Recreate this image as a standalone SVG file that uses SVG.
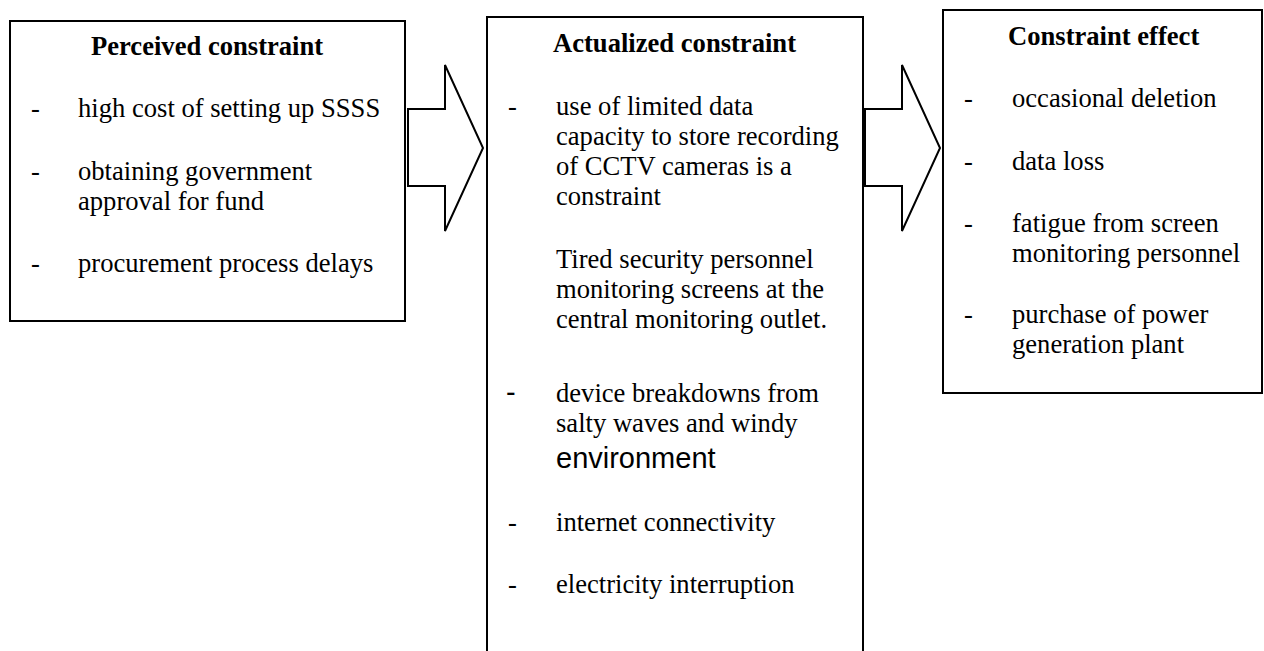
<svg xmlns="http://www.w3.org/2000/svg" width="1264" height="651" viewBox="0 0 1264 651">
<style>
.box{fill:#fff;stroke:#000;stroke-width:2}
.arr{fill:#fff;stroke:#000;stroke-width:2;stroke-linejoin:miter}
.t{font-family:"Liberation Serif","Times New Roman",serif;font-size:26.6px;fill:#000}
.h{font-family:"Liberation Serif","Times New Roman",serif;font-size:26.6px;font-weight:bold;fill:#000}
.s{font-family:"Liberation Sans",Arial,sans-serif;font-size:29px;fill:#000}
</style>
<rect width="1264" height="651" fill="#fff"/>
<g id="connectors">
<path class="arr" d="M408,109 H445 V65 L483,148 L445,231 V186 H408 Z"/>
<path class="arr" d="M865,109 H902 V65 L940,148 L902,231 V186 H865 Z"/>
</g>
<g id="perceived">
<rect class="box" x="10" y="21" width="395" height="300"/>
<text class="h" x="91" y="55">Perceived constraint</text>
<text class="t" x="31" y="117">-</text><text class="t" x="78" y="117">high cost of setting up SSSS</text>
<text class="t" x="31" y="180">-</text><text class="t" x="78" y="180">obtaining government</text>
<text class="t" x="78" y="210">approval for fund</text>
<text class="t" x="31" y="272">-</text><text class="t" x="78" y="272">procurement process delays</text>
</g>
<g id="actualized">
<rect class="box" x="487" y="17" width="376" height="650"/>
<text class="h" x="553" y="52">Actualized constraint</text>
<text class="t" x="508" y="115">-</text><text class="t" x="556" y="115">use of limited data</text>
<text class="t" x="556" y="145">capacity to store recording</text>
<text class="t" x="556" y="175">of CCTV cameras is a</text>
<text class="t" x="556" y="205">constraint</text>
<text class="t" x="556" y="268">Tired security personnel</text>
<text class="t" x="556" y="298">monitoring screens at the</text>
<text class="t" x="556" y="328">central monitoring outlet.</text>
<text class="s" x="506" y="402">-</text><text class="t" x="556" y="402">device breakdowns from</text>
<text class="t" x="556" y="432">salty waves and windy</text>
<text class="s" x="556" y="468">environment</text>
<text class="t" x="508" y="531">-</text><text class="t" x="556" y="531">internet connectivity</text>
<text class="t" x="508" y="593">-</text><text class="t" x="556" y="593">electricity interruption</text>
</g>
<g id="effect">
<rect class="box" x="943" y="10" width="319" height="383"/>
<text class="h" x="1008" y="45">Constraint effect</text>
<text class="t" x="964" y="107">-</text><text class="t" x="1012" y="107">occasional deletion</text>
<text class="t" x="964" y="170">-</text><text class="t" x="1012" y="170">data loss</text>
<text class="t" x="964" y="232">-</text><text class="t" x="1012" y="232">fatigue from screen</text>
<text class="t" x="1012" y="262">monitoring personnel</text>
<text class="t" x="964" y="323">-</text><text class="t" x="1012" y="323">purchase of power</text>
<text class="t" x="1012" y="353">generation plant</text>
</g>
</svg>
